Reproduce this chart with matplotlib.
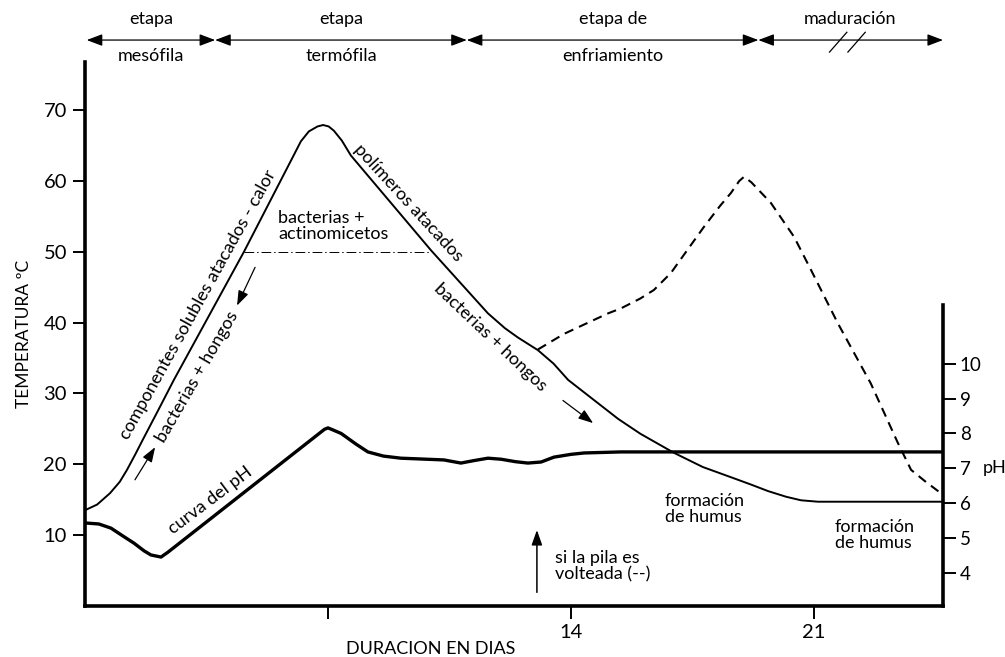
import matplotlib.pyplot as plt
import numpy as np

plt.rcParams['font.family'] = ['Lato', 'DejaVu Sans']

# temperatura (curva continua), dias / grados C
temp_dias = [0.0, 0.35, 0.72, 1.0, 1.21, 1.45, 1.67, 2.16, 2.56, 4.58, 6.0, 6.22, 6.45,
             6.7, 6.86, 7.02, 7.17, 7.4, 7.66, 9.97, 11.61, 12.1, 12.47, 13.05, 13.5, 13.92,
             15.36, 16.0, 16.97, 17.8, 18.7, 19.2, 19.68, 20.2, 20.63, 21.12, 24.72]
temp_val = [13.5, 14.3, 15.9, 17.5, 19.2, 21.4, 23.5, 28.1, 31.9, 50.0, 63.5, 65.6, 67.0,
            67.7, 67.9, 67.7, 67.1, 65.7, 63.6, 50.2, 41.3, 39.2, 37.9, 36.1, 34.2, 31.9,
            26.4, 24.3, 21.6, 19.6, 18.0, 17.1, 16.2, 15.4, 14.9, 14.7, 14.7]

# si la pila es volteada (curva a trazos)
volt_dias = [13.05, 13.8, 14.5, 15.07, 15.44, 16.0, 16.39, 16.88, 17.83, 18.3, 18.61,
             18.85, 18.99, 19.2, 19.76, 20.43, 20.92, 21.69, 22.64, 23.42, 23.8, 24.2, 24.66]
volt_val = [36.2, 38.4, 40.0, 41.3, 42.0, 43.4, 44.6, 47.0, 53.5, 56.5, 58.3,
            60.0, 60.6, 59.8, 56.9, 52.1, 47.4, 39.9, 31.4, 23.0, 19.2, 17.6, 15.9]

# curva del pH
ph_dias = [0.0, 0.4, 0.75, 1.1, 1.41, 1.70, 1.90, 2.19, 2.39, 6.9, 7.0, 7.1, 7.38, 7.8,
           8.15, 8.6, 9.10, 10.34, 10.83, 11.2, 11.61, 11.99, 12.4, 12.76, 13.14, 13.51,
           14.0, 14.38, 15.44, 24.72]
ph_val = [5.43, 5.40, 5.28, 5.05, 4.85, 4.63, 4.51, 4.45, 4.59, 8.12, 8.16, 8.12, 8.0, 7.7,
          7.47, 7.35, 7.29, 7.24, 7.15, 7.22, 7.29, 7.26, 7.19, 7.15, 7.18, 7.32,
          7.40, 7.44, 7.47, 7.47]

etapas_lim = [0.05, 3.75, 11.0, 19.4, 24.72]
etapas_arriba = ["etapa", "etapa", "etapa de", "maduración"]
etapas_abajo = ["mesófila", "termófila", "enfriamiento", ""]

temp_ticks = [10, 20, 30, 40, 50, 60, 70]
ph_ticks = [4, 5, 6, 7, 8, 9, 10]
dia_ticks = [7, 14, 21]
dia_labels = ["", "14", "21"]

fig = plt.figure(figsize=(10.05, 6.57), dpi=100)
ax = fig.add_axes([85 / 1005, 1 - 605.8 / 657, 858 / 1005, 543.8 / 657])
ax.set_xlim(0, 24.72)
ax.set_ylim(0, 76.8)

ax.plot(temp_dias, temp_val, color='k', lw=1.4)
ax.plot(volt_dias, volt_val, color='k', lw=1.5, ls=(0, (4.5, 3)))
ax.plot([4.58, 9.97], [50, 50], color='k', lw=0.7, ls=(0, (10, 3, 1.5, 3)))

for s in ['top', 'right']:
    ax.spines[s].set_visible(False)
for s in ['left', 'bottom']:
    ax.spines[s].set_linewidth(2.6)
ax.set_yticks(temp_ticks)
ax.set_yticklabels([str(t) for t in temp_ticks], fontsize=14.5)
ax.set_xticks(dia_ticks)
ax.set_xticklabels(dia_labels, fontsize=14.5)
ax.tick_params(axis='both', direction='out', length=9, width=1.4, pad=4)
ax.set_ylabel("TEMPERATURA ºC", fontsize=12.5, labelpad=8)
ax.set_xlabel("DURACION EN DIAS", fontsize=13)
ax.xaxis.set_label_coords(0.403, -0.064)

ax2 = ax.twinx()
ax2.set_ylim(3.05, 18.67)
ax2.plot(ph_dias, ph_val, color='k', lw=2.4)
for s in ['top', 'left', 'bottom']:
    ax2.spines[s].set_visible(False)
ax2.spines['right'].set_linewidth(2.6)
ax2.spines['right'].set_bounds(3.05, 11.69)
ax2.set_yticks(ph_ticks)
ax2.set_yticklabels([str(t) for t in ph_ticks], fontsize=13.5)
ax2.tick_params(axis='y', direction='out', length=9, width=1.4, pad=3)
ax2.text(26.2, 7.0, "pH", fontsize=13, ha='center', va='center', clip_on=False)

# etapas arriba
y_fl, y_up, y_dn = 79.9, 82.9, 77.6
for i in range(len(etapas_arriba)):
    a, b = etapas_lim[i], etapas_lim[i + 1]
    ax.annotate('', xy=(b, y_fl), xytext=(a, y_fl), annotation_clip=False,
                arrowprops=dict(arrowstyle='<|-|>,head_length=0.95,head_width=0.36',
                                mutation_scale=10, lw=0.9, color='k', shrinkA=0, shrinkB=0))
    mid = (a + b) / 2
    if i == 3:
        mid = 22.05
    ax.text(mid, y_up, etapas_arriba[i], fontsize=13, ha='center', va='center')
    ax.text(mid, y_dn, etapas_abajo[i], fontsize=13, ha='center', va='center')
for x0 in [21.45, 21.98]:
    ax.plot([x0, x0 + 0.5], [78.2, 81.0], color='k', lw=0.9, clip_on=False)

fs = 13
ax.text(3.26, 42.6, "componentes solubles atacados - calor", fontsize=fs, rotation=61,
        rotation_mode='anchor', ha='center', va='center')
ax.text(3.23, 32.4, "bacterias + hongos", fontsize=fs, rotation=60,
        rotation_mode='anchor', ha='center', va='center')
ax.text(5.56, 53.7, "bacterias +\nactinomicetos", fontsize=fs, ha='left', va='center',
        linespacing=1.0)
ax.text(9.31, 56.9, "polímeros atacados", fontsize=fs, rotation=-47.5,
        rotation_mode='anchor', ha='center', va='center')
ax.text(11.67, 37.9, "bacterias + hongos", fontsize=fs, rotation=-43.5,
        rotation_mode='anchor', ha='center', va='center')
ax.text(3.60, 14.9, "curva del pH", fontsize=fs, rotation=37,
        rotation_mode='anchor', ha='center', va='center')
ax.text(16.71, 13.7, "formación\nde humus", fontsize=fs, ha='left', va='center',
        linespacing=1.0)
ax.text(21.6, 10.0, "formación\nde humus", fontsize=fs, ha='left', va='center',
        linespacing=1.0)
ax.text(13.54, 5.6, "si la pila es\nvolteada (--)", fontsize=fs, ha='left', va='center',
        linespacing=1.0)

flecha = dict(arrowstyle='-|>,head_length=0.9,head_width=0.32', mutation_scale=10,
              lw=0.9, color='k', shrinkA=0, shrinkB=0)
ax.annotate('', xy=(2.02, 22.4), xytext=(1.44, 17.8), arrowprops=flecha)
ax.annotate('', xy=(4.38, 42.4), xytext=(4.90, 47.8), arrowprops=flecha)
ax.annotate('', xy=(14.64, 25.8), xytext=(13.77, 29.0), arrowprops=flecha)
ax.annotate('', xy=(13.02, 10.7), xytext=(13.02, 1.9),
            arrowprops=dict(flecha, lw=1.1))

plt.savefig("out.png", dpi=100)
